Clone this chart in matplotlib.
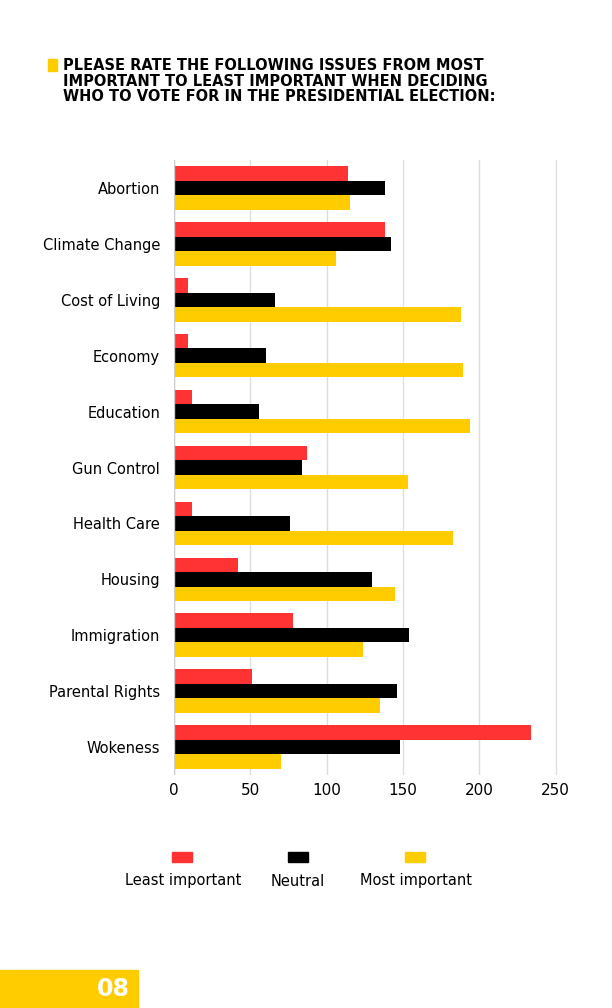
import matplotlib.pyplot as plt
import matplotlib.patches as mpatches
import numpy as np

# 数据
issues = ['Abortion', 'Climate Change', 'Cost of Living', 'Economy', 'Education',
          'Gun Control', 'Health Care', 'Housing', 'Immigration', 'Parental Rights', 'Wokeness']
least = [114, 138, 9, 9, 12, 87, 12, 42, 78, 51, 234]
neutral = [138, 142, 66, 60, 56, 84, 76, 130, 154, 146, 148]
most = [115, 106, 188, 189, 194, 153, 183, 145, 124, 135, 70]
series_names = ['Least important', 'Neutral', 'Most important']
colors = ['#ff3333', '#000000', '#ffcc00']

W, H = 612, 1008
fig = plt.figure(figsize=(W / 100, H / 100), dpi=100)

ax = fig.add_axes([174 / W, 1 - 775 / H, (574 - 174) / W, (775 - 160) / H])
y = np.arange(len(issues))
h = 0.26
for i, (vals, c) in enumerate(zip([least, neutral, most], colors)):
    ax.barh(y + (i - 1) * h, vals, height=h, color=c, zorder=3)
ax.set_yticks(y)
ax.set_yticklabels(issues, fontsize=10.5)
ax.set_ylim(len(issues) - 0.5, -0.5)
ax.set_xlim(0, 262)
ax.set_xticks([0, 50, 100, 150, 200, 250])
ax.tick_params(axis='x', labelsize=11, length=0, pad=6)
ax.tick_params(axis='y', length=0, pad=10)
ax.grid(axis='x', color='#dddddd', lw=1, zorder=0)
for s in ax.spines.values():
    s.set_visible(False)
ax.axvline(0, color='#cccccc', lw=1, zorder=4)

# 标题
fig.patches.append(mpatches.Rectangle((48 / W, 1 - 71 / H), 9 / W, 12 / H,
                                      transform=fig.transFigure, color='#ffcc00'))
fig.text(63 / W, 1 - 58 / H,
         'PLEASE RATE THE FOLLOWING ISSUES FROM MOST\nIMPORTANT TO LEAST IMPORTANT WHEN DECIDING\nWHO TO VOTE FOR IN THE PRESIDENTIAL ELECTION:',
         fontsize=10.5, fontweight='bold', va='top', linespacing=1.05)

# 图例
for name, c, xp, xl in zip(series_names, colors, [182, 298, 415], [183, 298, 416]):
    fig.patches.append(mpatches.Rectangle(((xp - 10) / W, 1 - 862 / H), 20 / W, 10 / H,
                                          transform=fig.transFigure, color=c))
    fig.text(xl / W, 1 - 881 / H, name, fontsize=10.5, ha='center', va='center')

# 页码
fig.patches.append(mpatches.Rectangle((0, 0), 138 / W, 38 / H,
                                      transform=fig.transFigure, color='#ffcc00'))
fig.text(113 / W, 19 / H, '08', color='white', fontsize=17, fontweight='bold',
         ha='center', va='center')

fig.savefig('out.png', dpi=100)
